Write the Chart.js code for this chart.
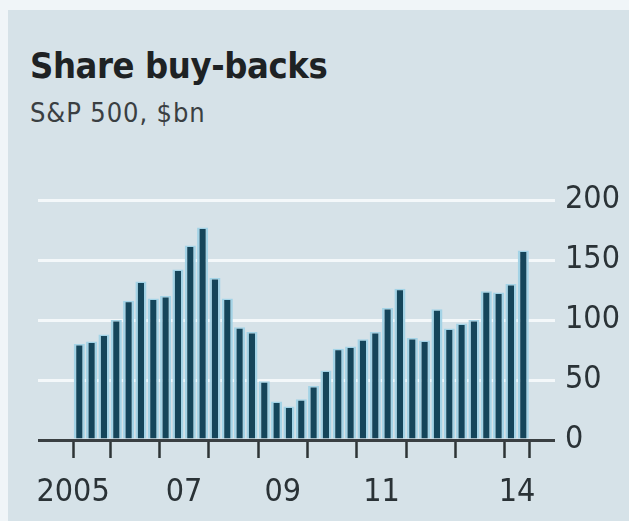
<!DOCTYPE html>
<html>
<head>
<meta charset="utf-8">
<script src="https://cdn.jsdelivr.net/npm/chart.js@4"></script>
<style>
  body { margin: 0; background: #f0f5f8; }
  #panel { position: absolute; left: 8px; top: 10px; width: 621px; height: 511px; background: #d6e2e8; }
  #title { position: absolute; left: 30px; top: 45px; font: bold 36px "DejaVu Sans Condensed", "DejaVu Sans"; color: #1e2224; letter-spacing: -0.4px; }
  #sub { position: absolute; left: 30px; top: 97px; font: 27px "DejaVu Sans Condensed", "DejaVu Sans"; color: #3a3f42; letter-spacing: 0.9px; }
  #wrap { position: absolute; left: 0; top: 0; width: 629px; height: 521px; }
</style>
</head>
<body>
<div id="panel"></div>
<div id="title">Share buy-backs</div>
<div id="sub">S&amp;P 500, $bn</div>
<div id="wrap"><canvas id="myChart"></canvas></div>
<script>
// quarters shown, 2005 Q2 to 2014 Q2
const quarters = [
  '2005 Q2', '2005 Q3', '2005 Q4',
  '2006 Q1', '2006 Q2', '2006 Q3', '2006 Q4',
  '2007 Q1', '2007 Q2', '2007 Q3', '2007 Q4',
  '2008 Q1', '2008 Q2', '2008 Q3', '2008 Q4',
  '2009 Q1', '2009 Q2', '2009 Q3', '2009 Q4',
  '2010 Q1', '2010 Q2', '2010 Q3', '2010 Q4',
  '2011 Q1', '2011 Q2', '2011 Q3', '2011 Q4',
  '2012 Q1', '2012 Q2', '2012 Q3', '2012 Q4',
  '2013 Q1', '2013 Q2', '2013 Q3', '2013 Q4',
  '2014 Q1', '2014 Q2'
]
// buy-backs, $bn
const buybacks = [
  80, 82, 88,
  100, 116, 132, 118,
  120, 142, 162, 177,
  135, 118, 94, 90,
  49, 32, 28, 34,
  45, 58, 76, 78,
  84, 90, 110, 126,
  85, 83, 109, 93,
  97, 100, 124, 123,
  130, 158
]
// year boundary tick marks on the x axis
const yearTicks = [2005.25, 2006, 2007, 2008, 2009, 2010, 2011, 2012, 2013, 2014, 2014.5]
// x labels and where they sit
const xLabels = ['2005', '07', '09', '11', '14']
const xLabelAt = [2005.25, 2007.5, 2009.5, 2011.5, 2014.25]
const yTicks = [0, 50, 100, 150, 200]

let points = []
quarters.forEach((q, i) => {
  const year = parseInt(q.slice(0, 4))
  const qn = parseInt(q.slice(6))
  points.push({ x: year + (qn - 0.5) / 4, y: buybacks[i] })
})

const tickFont = { family: 'DejaVu Sans Condensed', size: 32 }

const config = {
  type: 'bar',
  data: {
    datasets: [{
      label: 'Share buy-backs',
      data: points,
      backgroundColor: '#15455a',
      borderColor: '#a3d3e6',
      borderWidth: { left: 2.5, right: 2.5, top: 1.5, bottom: 0 },
      borderSkipped: 'start',
      categoryPercentage: 1,
      barPercentage: 0.9
    }]
  },
  options: {
    responsive: true,
    maintainAspectRatio: false,
    animation: false,
    layout: { padding: { left: 38, top: 200, right: 0, bottom: 0 } },
    plugins: { legend: { display: false }, tooltip: { enabled: false } },
    scales: {
      x: {
        type: 'linear',
        offset: false,
        min: 2004.538,
        max: 2015.018,
        border: { display: false },
        grid: {
          offset: false,
          drawOnChartArea: false,
          tickLength: 18,
          tickWidth: 2.5,
          tickColor: ctx => (ctx.tick && yearTicks.includes(ctx.tick.value)) ? '#2e3436' : 'rgba(0,0,0,0)'
        },
        afterBuildTicks: scale => {
          let vals = yearTicks.concat(xLabelAt.filter(v => !yearTicks.includes(v)))
          vals.sort((a, b) => a - b)
          scale.ticks = vals.map(v => ({ value: v }))
        },
        afterFit: scale => { scale.height = 81 },
        ticks: {
          autoSkip: false,
          maxRotation: 0,
          padding: 15,
          color: '#2a3236',
          font: tickFont,
          callback: v => {
            const k = xLabelAt.indexOf(v)
            return k >= 0 ? xLabels[k] : ''
          }
        }
      },
      y: {
        position: 'right',
        min: 0,
        max: 200,
        border: { display: false },
        grid: {
          drawTicks: false,
          lineWidth: 3,
          color: ctx => (ctx.tick && ctx.tick.value === 0) ? '#3a3f42' : '#f4f8fa'
        },
        afterBuildTicks: scale => { scale.ticks = yTicks.map(v => ({ value: v })) },
        afterFit: scale => { scale.width = 74 },
        ticks: { padding: 10, color: '#2a3236', font: tickFont }
      }
    }
  }
}

let myChart = new Chart(document.getElementById('myChart'), config)
</script>
</body>
</html>
